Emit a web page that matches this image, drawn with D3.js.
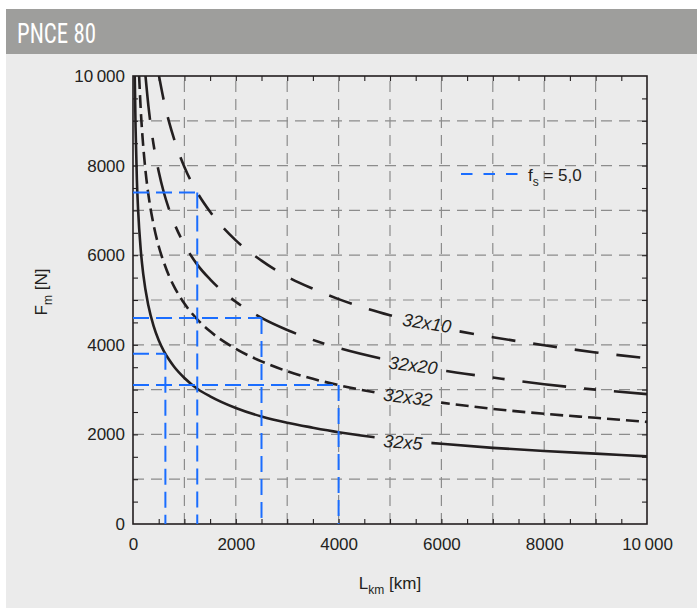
<!DOCTYPE html>
<html><head><meta charset="utf-8">
<script src="https://cdn.jsdelivr.net/npm/d3@7"></script>
<style>body{margin:0;background:#fff}svg{display:block}</style>
</head><body>
<svg id="c" width="697" height="608"></svg>
<script>
// ---------- data ----------
const xTicks = [0, 2000, 4000, 6000, 8000, 10000];
const yTicks = [0, 2000, 4000, 6000, 8000, 10000];

const names = ["32x5", "32x32", "32x20", "32x10"];

const L_32x5  = [34, 50, 75, 100, 150, 200, 300, 400, 500, 600, 700, 800, 1000, 1250, 1500, 2000, 2500, 3000, 3500, 4000, 5000, 6000, 7000, 8000, 9000, 10000];
const F_32x5  = [10000, 8850, 7700, 7000, 6130, 5570, 4870, 4420, 4100, 3860, 3670, 3510, 3260, 3020, 2850, 2590, 2400, 2260, 2150, 2050, 1900, 1790, 1700, 1630, 1570, 1510];

const L_32x32 = [119, 150, 200, 250, 300, 400, 500, 600, 700, 800, 1000, 1250, 1500, 2000, 2500, 3000, 3500, 4000, 5000, 6000, 7000, 8000, 9000, 10000];
const F_32x32 = [10000, 9260, 8420, 7810, 7350, 6680, 6200, 5840, 5540, 5300, 4920, 4570, 4300, 3910, 3630, 3410, 3240, 3100, 2880, 2710, 2570, 2460, 2370, 2280];

const L_32x20 = [243, 300, 400, 500, 600, 700, 800, 1000, 1250, 1500, 2000, 2500, 3000, 3500, 4000, 5000, 6000, 7000, 8000, 9000, 10000];
const F_32x20 = [10000, 9330, 8470, 7870, 7400, 7030, 6720, 6240, 5790, 5460, 4960, 4600, 4330, 4110, 3930, 3650, 3430, 3270, 3120, 3000, 2900];

const L_32x10 = [506, 600, 700, 800, 1000, 1250, 1500, 2000, 2500, 3000, 3500, 4000, 5000, 6000, 7000, 8000, 9000, 10000];
const F_32x10 = [10000, 9450, 8980, 8590, 7970, 7400, 6970, 6330, 5880, 5520, 5250, 5020, 4660, 4380, 4170, 3990, 3830, 3700];

// f_s = 5,0 guide lines
const fsL = [630, 1250, 2500, 4000];
const fsF = [3800, 7400, 4600, 3100];

// curve label anchors (data coords) and angles
const labelL = [5250, 5350, 5450, 5720];
const labelF = [1830, 2835, 3550, 4490];
const labelAngle = [4, 7, 7, 9];

// ---------- styles ----------
const INK = "#231f20";
const BLUE = "#1a6dff";
const BG = "#ebebeb";
const dashes = {"32x5": null, "32x32": "13,6", "32x20": "44,18,12,18", "32x10": "24,18"};

const svg = d3.select("#c");
svg.append("rect").attr("width", 697).attr("height", 608).attr("fill", "#fff");
svg.append("rect").attr("x", 6).attr("y", 9).attr("width", 691).attr("height", 599).attr("fill", BG);
svg.append("rect").attr("x", 6).attr("y", 9).attr("width", 691).attr("height", 45).attr("fill", "#9e9e9c");
svg.append("text").attr("x", 17).attr("y", 43)
  .attr("font-family", "'Liberation Sans Narrow','Roboto Condensed','Liberation Sans',sans-serif")
  .attr("font-size", 27).attr("fill", "#fff")
  .attr("textLength", 79).attr("lengthAdjust", "spacingAndGlyphs")
  .text("PNCE 80");

const x = d3.scaleLinear().domain([0, 10000]).range([133, 647]);
const y = d3.scaleLinear().domain([0, 10000]).range([524, 76]);

const FONT = "'Liberation Sans',Arial,sans-serif";

// grid
const gridVals = d3.range(1000, 10000, 1000);
const grid = svg.append("g").attr("stroke", "#8c8c8c").attr("stroke-width", 1.2).attr("stroke-dasharray", "11,7");
grid.selectAll(".gv").data(gridVals).join("line")
  .attr("x1", d => x(d)).attr("x2", d => x(d)).attr("y1", y(0)).attr("y2", y(10000));
grid.selectAll(".gh").data(gridVals).join("line")
  .attr("y1", d => y(d)).attr("y2", d => y(d)).attr("x1", x(0)).attr("x2", x(10000));

// axes with inward minor ticks
const minor = d3.range(500, 10000, 500);
const fmt = d => d >= 10000 ? "10\u2009000" : String(d);
const axB = svg.append("g").attr("transform", `translate(0,${y(0)})`)
  .call(d3.axisBottom(x).tickValues(minor).tickSize(-5).tickFormat(""));
const axT = svg.append("g").attr("transform", `translate(0,${y(10000)})`)
  .call(d3.axisTop(x).tickValues(minor).tickSize(-5).tickFormat(""));
const axL = svg.append("g").attr("transform", `translate(${x(0)},0)`)
  .call(d3.axisLeft(y).tickValues(minor).tickSize(-5).tickFormat(""));
const axR = svg.append("g").attr("transform", `translate(${x(10000)},0)`)
  .call(d3.axisRight(y).tickValues(minor).tickSize(-5).tickFormat(""));
[axB, axT, axL, axR].forEach(a => {
  a.select(".domain").remove();
  a.selectAll("line").attr("stroke", INK).attr("stroke-width", 1.1);
});
// tick labels
const xl = svg.append("g").attr("transform", `translate(0,${y(0)})`)
  .call(d3.axisBottom(x).tickValues(xTicks).tickSize(0).tickPadding(14).tickFormat(fmt));
xl.select(".domain").remove();
xl.selectAll("text").attr("font-family", FONT).attr("font-size", 17).attr("fill", INK).attr("dy", "0.71em");
const yl = svg.append("g").attr("transform", `translate(${x(0)},0)`)
  .call(d3.axisLeft(y).tickValues(yTicks).tickSize(0).tickPadding(8).tickFormat(fmt));
yl.select(".domain").remove();
yl.selectAll("text").attr("font-family", FONT).attr("font-size", 17).attr("fill", INK);

// frame
svg.append("rect").attr("x", x(0)).attr("y", y(10000)).attr("width", x(10000) - x(0)).attr("height", y(0) - y(10000))
  .attr("fill", "none").attr("stroke", INK).attr("stroke-width", 1.6);

// series
const series = [
  {name: "32x5", L: L_32x5, F: F_32x5},
  {name: "32x32", L: L_32x32, F: F_32x32},
  {name: "32x20", L: L_32x20, F: F_32x20},
  {name: "32x10", L: L_32x10, F: F_32x10}
];

const defs = svg.append("defs");
const clip = defs.append("clipPath").attr("id", "plotclip");
clip.append("rect").attr("x", x(0)).attr("y", y(10000)).attr("width", x(10000) - x(0)).attr("height", y(0) - y(10000));
const mask = defs.append("mask").attr("id", "lblmask").attr("maskUnits", "userSpaceOnUse")
  .attr("x", 0).attr("y", 0).attr("width", 697).attr("height", 608);
mask.append("rect").attr("width", 697).attr("height", 608).attr("fill", "#fff");

const curveG = svg.append("g").attr("mask", "url(#lblmask)").attr("clip-path", "url(#plotclip)");
const line = d3.line().x(d => x(d[0])).y(d => y(d[1])).curve(d3.curveMonotoneX);
series.forEach(s => {
  const pts = s.L.map((l, i) => [l, s.F[i]]);
  curveG.append("path").attr("d", line(pts)).attr("fill", "none")
    .attr("stroke", INK).attr("stroke-width", 2.6)
    .attr("stroke-dasharray", dashes[s.name]);
});

const lblG = svg.append("g");
names.forEach((n, i) => {
  const cx = x(labelL[i]), cy = y(labelF[i]);
  const t = lblG.append("text")
    .attr("transform", `translate(${cx},${cy}) rotate(${labelAngle[i]})`)
    .attr("text-anchor", "middle").attr("dy", "0.36em")
    .attr("font-family", FONT).attr("font-style", "italic").attr("font-size", 18).attr("fill", INK)
    .text(n);
  const w = t.node().getComputedTextLength();
  mask.append("rect").attr("transform", `translate(${cx},${cy}) rotate(${labelAngle[i]})`)
    .attr("x", -w / 2 - 9).attr("y", -11).attr("width", w + 18).attr("height", 22).attr("fill", "#000");
});

// f_s guides
const gG = svg.append("g").attr("stroke", BLUE).attr("stroke-width", 2).attr("fill", "none").attr("stroke-dasharray", "16,7");
fsL.forEach((l, i) => {
  gG.append("line").attr("x1", x(0)).attr("x2", x(l)).attr("y1", y(fsF[i])).attr("y2", y(fsF[i]));
  gG.append("line").attr("x1", x(l)).attr("x2", x(l)).attr("y1", y(fsF[i])).attr("y2", y(0));
});

// legend
svg.append("line").attr("x1", 461).attr("x2", 519).attr("y1", 174).attr("y2", 174)
  .attr("stroke", BLUE).attr("stroke-width", 2).attr("stroke-dasharray", "11.5,11");
const lg = svg.append("text").attr("x", 528).attr("y", 181).attr("font-family", FONT).attr("font-size", 17).attr("fill", INK);
lg.append("tspan").text("f");
lg.append("tspan").attr("font-size", 12).attr("dy", 5).text("s");
lg.append("tspan").attr("dy", -5).text("\u00a0= 5,0");

// axis titles
const xt = svg.append("text").attr("x", 390).attr("y", 589).attr("text-anchor", "middle")
  .attr("font-family", FONT).attr("font-size", 17).attr("fill", INK);
xt.append("tspan").text("L");
xt.append("tspan").attr("font-size", 12).attr("dy", 5).text("km");
xt.append("tspan").attr("dy", -5).text("\u00a0[km]");

const yt = svg.append("text").attr("transform", "translate(47,292) rotate(-90)").attr("text-anchor", "middle")
  .attr("font-family", FONT).attr("font-size", 17).attr("fill", INK);
yt.append("tspan").text("F");
yt.append("tspan").attr("font-size", 12).attr("dy", 5).text("m");
yt.append("tspan").attr("dy", -5).text("\u00a0[N]");
</script>
</body></html>
